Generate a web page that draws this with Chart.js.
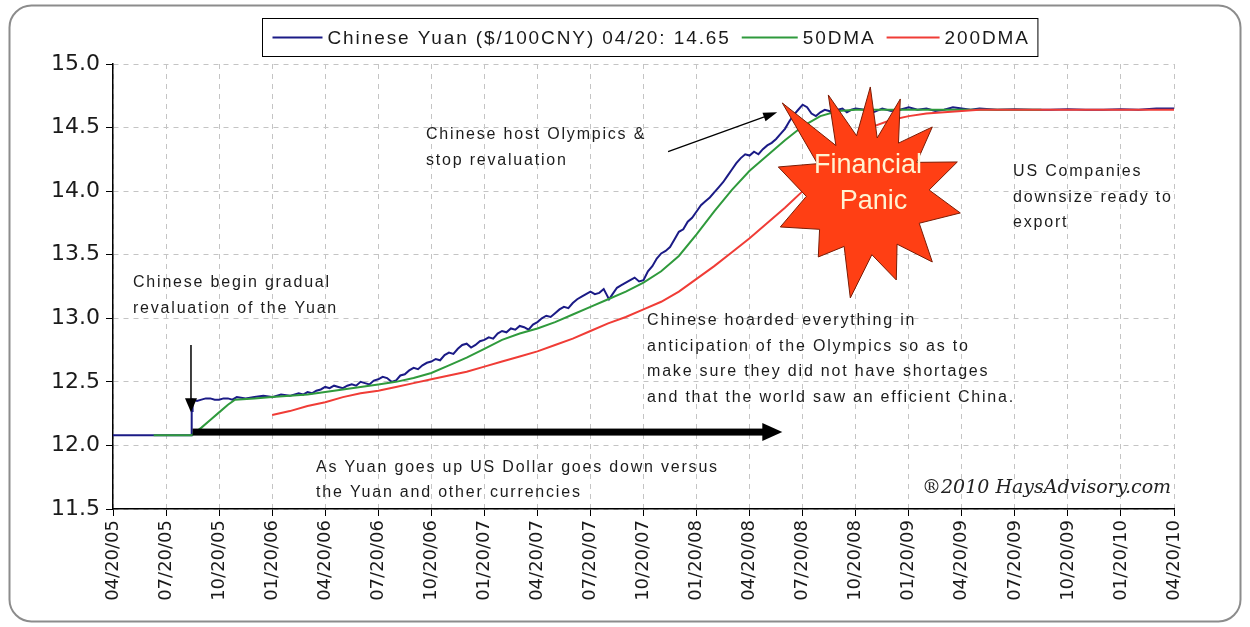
<!DOCTYPE html>
<html>
<head>
<meta charset="utf-8">
<title>Chinese Yuan ($/100CNY)</title>
<script src="https://cdn.jsdelivr.net/npm/chart.js@4.4.0/dist/chart.umd.min.js"></script>
<style>
  html, body { margin: 0; padding: 0; background: #ffffff; }
  #wrap { width: 1250px; height: 627px; position: relative; }
</style>
</head>
<body>
<div id="wrap"><canvas id="chart" width="1250" height="627"></canvas></div>
<script>
// Quarterly date labels along the time axis (one every 3 months from 04/20/05)
const tickLabels = [
  '04/20/05', '07/20/05', '10/20/05', '01/20/06', '04/20/06', '07/20/06', '10/20/06',
  '01/20/07', '04/20/07', '07/20/07', '10/20/07', '01/20/08', '04/20/08', '07/20/08',
  '10/20/08', '01/20/09', '04/20/09', '07/20/09', '10/20/09', '01/20/10', '04/20/10'
];

// Chinese Yuan in $ per 100 CNY; x = months since 04/20/05
const yuanMonths = [
  0, 2, 4.42, 4.45, 4.47, 4.5, 4.75, 5, 5.25, 5.5, 5.75, 6, 6.25, 6.5, 6.75, 7, 7.5, 8, 8.5, 9, 9.5, 10, 10.5, 10.75,
  11, 11.25, 11.5, 11.75, 12, 12.25, 12.5, 12.75, 13, 13.25, 13.5, 13.75, 14, 14.25, 14.5, 14.75,
  15, 15.25, 15.5, 15.75, 16, 16.25, 16.5, 16.75, 17, 17.25, 17.5, 17.75, 18, 18.25, 18.5, 18.75,
  19, 19.25, 19.5, 19.75, 20, 20.25, 20.5, 20.75, 21, 21.25, 21.5, 21.75, 22, 22.25, 22.5, 22.75,
  23, 23.25, 23.5, 23.75, 24, 24.25, 24.5, 24.75, 25, 25.25, 25.5, 25.75, 26, 26.25, 26.5, 26.75,
  27, 27.25, 27.5, 27.75, 27.9, 28.05, 28.25, 28.5, 28.75, 29, 29.25, 29.5, 29.75,
  30, 30.25, 30.5, 30.75, 31, 31.25, 31.5, 31.75, 32, 32.25, 32.5, 32.75, 33, 33.25, 33.5, 33.75,
  34, 34.25, 34.5, 34.75, 35, 35.25, 35.5, 35.75, 36, 36.25, 36.5, 36.75, 37, 37.25, 37.5, 37.75,
  38, 38.25, 38.5, 38.75, 39, 39.25, 39.5, 39.75, 40, 40.25, 40.5, 40.75, 41, 41.25, 41.5, 41.75,
  42, 42.5, 43, 43.5, 44, 44.5, 45, 45.5, 46, 46.5, 47, 47.5, 48, 48.5, 49,
  50, 51, 52, 53, 54, 55, 56, 57, 58, 59, 60
];
const yuanValues = [
  12.08, 12.08, 12.08, 12.31, 12.27, 12.36, 12.35, 12.36, 12.37, 12.37, 12.36, 12.36, 12.37, 12.37, 12.36, 12.38, 12.37, 12.38, 12.39, 12.38, 12.40, 12.39, 12.41, 12.40,
  12.42, 12.41, 12.43, 12.44, 12.46, 12.45, 12.47, 12.46, 12.45, 12.47, 12.48, 12.47, 12.50, 12.49, 12.48, 12.51,
  12.52, 12.54, 12.53, 12.50, 12.51, 12.55, 12.56, 12.59, 12.61, 12.60, 12.63, 12.65, 12.66, 12.68, 12.67, 12.71,
  12.73, 12.72, 12.76, 12.79, 12.80, 12.77, 12.79, 12.82, 12.83, 12.85, 12.84, 12.88, 12.90, 12.89, 12.92, 12.91,
  12.94, 12.93, 12.91, 12.95, 12.97, 13.00, 13.02, 13.01, 13.04, 13.07, 13.09, 13.08, 13.12, 13.15, 13.17, 13.19,
  13.21, 13.19, 13.20, 13.23, 13.19, 13.15, 13.19, 13.24, 13.26, 13.28, 13.30, 13.32, 13.29,
  13.30, 13.37, 13.41, 13.47, 13.51, 13.53, 13.56, 13.62, 13.68, 13.70, 13.76, 13.79, 13.84, 13.89, 13.92, 13.95,
  13.99, 14.03, 14.07, 14.12, 14.17, 14.22, 14.26, 14.29, 14.28, 14.31, 14.29, 14.33, 14.36, 14.38, 14.41, 14.45,
  14.49, 14.55, 14.60, 14.64, 14.68, 14.66, 14.61, 14.59, 14.62, 14.64, 14.63, 14.61, 14.64, 14.65, 14.62, 14.64,
  14.65, 14.64, 14.62, 14.65, 14.63, 14.64, 14.66, 14.64, 14.65, 14.63, 14.64, 14.66, 14.65, 14.64, 14.65,
  14.64, 14.645, 14.64, 14.64, 14.645, 14.64, 14.64, 14.645, 14.64, 14.65, 14.65
];

// 50-day moving average
const dma50Months = [
  2.3, 4.45, 5, 5.5, 6, 6.5, 6.9, 8, 9, 10, 11, 12, 13, 14, 15, 16, 17, 18, 19, 20, 21, 22,
  23, 24, 25, 26, 27, 28, 29, 30, 31, 32, 33, 34, 35, 36, 37, 38, 39, 40, 41, 42, 44, 46, 48, 50, 52.5
];
const dma50Values = [
  12.08, 12.08, 12.14, 12.20, 12.26, 12.32, 12.36, 12.37, 12.38, 12.39, 12.40, 12.42, 12.44, 12.46, 12.48, 12.50, 12.53, 12.57, 12.63, 12.69, 12.76, 12.83,
  12.88, 12.92, 12.97, 13.03, 13.09, 13.15, 13.21, 13.28, 13.37, 13.49, 13.66, 13.84, 14.01, 14.16, 14.28, 14.40, 14.51, 14.59, 14.63, 14.64, 14.64, 14.64, 14.64, 14.64, 14.64
];

// 200-day moving average
const dma200Months = [
  9, 10, 11, 12, 13, 14, 15, 16, 17, 18, 19, 20, 21, 22, 23, 24, 25, 26, 27, 28, 29, 30,
  31, 32, 33, 34, 35, 36, 37, 38, 39, 40, 41, 42, 43, 44, 45, 46, 47, 48, 49, 52, 56, 60
];
const dma200Values = [
  12.24, 12.27, 12.31, 12.34, 12.38, 12.41, 12.43, 12.46, 12.49, 12.52, 12.55, 12.58, 12.62, 12.66, 12.70, 12.74, 12.79, 12.84, 12.90, 12.96, 13.01, 13.07,
  13.13, 13.21, 13.31, 13.41, 13.52, 13.63, 13.75, 13.87, 14.00, 14.16, 14.30, 14.43, 14.51, 14.56, 14.59, 14.61, 14.62, 14.63, 14.64, 14.64, 14.64, 14.64
];

const seriesNames = ['Chinese Yuan ($/100CNY) 04/20: 14.65', '50DMA', '200DMA'];
const seriesColors = ['#1b1b86', '#2f9a3c', '#f03c36'];

const pairs = (xs, ys) => xs.map((x, i) => ({ x: x, y: ys[i] }));

// Callout texts, anchored in axis units (months, $/100CNY)
const notes = [
  { at: [1.13, 13.277], lines: ['Chinese begin gradual', 'revaluation of the Yuan'] },
  { at: [11.48, 11.829], lines: ['As Yuan goes up US Dollar goes down versus', 'the Yuan and other currencies'] },
  { at: [17.70, 14.441], lines: ['Chinese host Olympics &', 'stop revaluation'] },
  { at: [30.20, 12.978], lines: ['Chinese hoarded everything in', 'anticipation of the Olympics so as to',
                                 'make sure they did not have shortages', 'and that the world saw an efficient China.'] },
  { at: [50.90, 14.150], lines: ['US Companies', 'downsize ready to', 'export'] }
];

const decor = {
  id: 'decor',
  beforeDraw(chart) {
    const ctx = chart.ctx;
    ctx.save();
    ctx.fillStyle = '#ffffff';
    ctx.fillRect(0, 0, chart.width, chart.height);
    // rounded outer frame
    const x0 = 9.5, y0 = 5.5, x1 = chart.width - 9.5, y1 = chart.height - 5.5, r = 22;
    ctx.beginPath();
    ctx.moveTo(x0 + r, y0);
    ctx.lineTo(x1 - r, y0);
    ctx.arcTo(x1, y0, x1, y0 + r, r);
    ctx.lineTo(x1, y1 - r);
    ctx.arcTo(x1, y1, x1 - r, y1, r);
    ctx.lineTo(x0 + r, y1);
    ctx.arcTo(x0, y1, x0, y1 - r, r);
    ctx.lineTo(x0, y0 + r);
    ctx.arcTo(x0, y0, x0 + r, y0, r);
    ctx.closePath();
    ctx.strokeStyle = '#8c8c8c';
    ctx.lineWidth = 2;
    ctx.stroke();
    ctx.restore();
  },
  afterDatasetsDraw(chart) {
    const ctx = chart.ctx;
    const sx = chart.scales.x, sy = chart.scales.y;
    const px = m => sx.getPixelForValue(m);
    const py = v => sy.getPixelForValue(v);

    ctx.save();
    // thick horizontal arrow
    {
      const xa = px(4.5), xb = px(37.85), y = py(12.105);
      ctx.fillStyle = '#000';
      ctx.fillRect(xa, y - 3.5, xb - xa - 18, 7);
      ctx.beginPath();
      ctx.moveTo(xb - 20, y - 9);
      ctx.lineTo(xb, y);
      ctx.lineTo(xb - 20, y + 9);
      ctx.closePath();
      ctx.fill();
    }
    // vertical arrow to the revaluation step
    {
      const x = px(4.41), ya = py(12.79), yb = py(12.26);
      ctx.strokeStyle = '#000';
      ctx.lineWidth = 1.5;
      ctx.beginPath();
      ctx.moveTo(x, ya);
      ctx.lineTo(x, yb - 12);
      ctx.stroke();
      ctx.fillStyle = '#000';
      ctx.beginPath();
      ctx.moveTo(x - 6, yb - 14);
      ctx.lineTo(x + 6, yb - 14);
      ctx.lineTo(x, yb);
      ctx.closePath();
      ctx.fill();
    }
    // slanted arrow to the Olympic peak
    {
      const xa = px(31.39), ya = py(14.31), xb = px(37.56), yb = py(14.62);
      const ang = Math.atan2(yb - ya, xb - xa);
      ctx.strokeStyle = '#000';
      ctx.lineWidth = 1.3;
      ctx.beginPath();
      ctx.moveTo(xa, ya);
      ctx.lineTo(xb - 10 * Math.cos(ang), yb - 10 * Math.sin(ang));
      ctx.stroke();
      ctx.fillStyle = '#000';
      ctx.beginPath();
      ctx.moveTo(xb, yb);
      ctx.lineTo(xb - 14 * Math.cos(ang) + 4.5 * Math.sin(ang), yb - 14 * Math.sin(ang) - 4.5 * Math.cos(ang));
      ctx.lineTo(xb - 14 * Math.cos(ang) - 4.5 * Math.sin(ang), yb - 14 * Math.sin(ang) + 4.5 * Math.cos(ang));
      ctx.closePath();
      ctx.fill();
    }

    // "Financial Panic" burst
    {
      const cx = px(42.6), cy = py(13.97);
      const tips = [[-84, -92], [-38, -100], [4, -108], [34, -96], [66, -68], [91, -33], [94, 18],
                    [66, 67], [30, 85], [-16, 103], [-48, 62], [-86, 32], [-88, -28]];
      const inner = [58, 60, 58, 61, 60, 63, 60, 58, 60, 56, 58, 60, 58];
      ctx.beginPath();
      tips.forEach((t, i) => {
        const a1 = Math.atan2(t[1], t[0]);
        const n = tips[(i + 1) % tips.length];
        let a2 = Math.atan2(n[1], n[0]);
        if (a2 < a1) a2 += Math.PI * 2;
        const am = (a1 + a2) / 2;
        if (i === 0) ctx.moveTo(cx + t[0], cy + t[1]); else ctx.lineTo(cx + t[0], cy + t[1]);
        ctx.lineTo(cx + inner[i] * Math.cos(am), cy + inner[i] * Math.sin(am));
      });
      ctx.closePath();
      ctx.fillStyle = '#ff3f14';
      ctx.fill();
      ctx.strokeStyle = '#7a1c05';
      ctx.lineWidth = 1;
      ctx.stroke();

      ctx.fillStyle = '#fff3d2';
      ctx.font = '27px "Liberation Sans", Arial, sans-serif';
      ctx.textAlign = 'center';
      ctx.textBaseline = 'middle';
      ctx.fillText('Financial', px(42.70), py(14.205));
      ctx.fillText('Panic', px(43.01), py(13.922));
    }

    // callout texts
    ctx.fillStyle = '#1c1c1c';
    ctx.font = '16px "Liberation Sans", Arial, sans-serif';
    ctx.textAlign = 'left';
    ctx.textBaseline = 'middle';
    ctx.letterSpacing = '1.8px';
    notes.forEach(n => {
      const x = px(n.at[0]), y = py(n.at[1]);
      n.lines.forEach((s, i) => ctx.fillText(s, x, y + i * 25.5));
    });
    ctx.letterSpacing = '0px';

    // copyright mark
    ctx.font = 'italic 19px "DejaVu Serif", serif';
    ctx.fillStyle = '#222';
    ctx.fillText('\u00AE2010 HaysAdvisory.com', px(45.75), py(11.664));
    ctx.restore();
  },
  afterDraw(chart) {
    // boxed legend above the plot
    const ctx = chart.ctx;
    const area = chart.chartArea;
    ctx.save();
    ctx.font = '19px "Liberation Sans", Arial, sans-serif';
    ctx.letterSpacing = '1.9px';
    ctx.textBaseline = 'middle';
    ctx.textAlign = 'left';
    const sample = [50, 56, 53];
    const gapAfterSample = 5, gapAfterText = 11, padL = 10, padR = 8;
    const widths = seriesNames.map(s => ctx.measureText(s).width);
    let total = padL + padR;
    seriesNames.forEach((s, i) => { total += sample[i] + gapAfterSample + widths[i] + (i < 2 ? gapAfterText : 0); });
    const cxm = (area.left + area.right) / 2 + 6;
    const left = Math.round(cxm - total / 2) + 0.5, top = 18.5, h = 38;
    ctx.fillStyle = '#fff';
    ctx.fillRect(left, top, total, h);
    ctx.strokeStyle = '#000';
    ctx.lineWidth = 1;
    ctx.strokeRect(left, top, total, h);
    let x = left + padL;
    const y = top + h / 2;
    seriesNames.forEach((s, i) => {
      ctx.strokeStyle = seriesColors[i];
      ctx.lineWidth = 2;
      ctx.beginPath();
      ctx.moveTo(x, y);
      ctx.lineTo(x + sample[i], y);
      ctx.stroke();
      x += sample[i] + gapAfterSample;
      ctx.fillStyle = '#1a1a1a';
      ctx.fillText(s, x, y + 1);
      x += widths[i] + gapAfterText;
    });
    ctx.restore();
  }
};

const gridDash = [5, 5];

new Chart(document.getElementById('chart'), {
  type: 'line',
  data: {
    datasets: [
      { label: seriesNames[0], data: pairs(yuanMonths, yuanValues), borderColor: seriesColors[0],
        backgroundColor: seriesColors[0], borderWidth: 2, order: 3 },
      { label: seriesNames[1], data: pairs(dma50Months, dma50Values), borderColor: seriesColors[1],
        backgroundColor: seriesColors[1], borderWidth: 2, order: 2 },
      { label: seriesNames[2], data: pairs(dma200Months, dma200Values), borderColor: seriesColors[2],
        backgroundColor: seriesColors[2], borderWidth: 2, order: 1 }
    ]
  },
  options: {
    responsive: false,
    animation: false,
    events: [],
    elements: { point: { radius: 0 }, line: { tension: 0 } },
    layout: { padding: { top: 64, right: 76, bottom: 0, left: 0 } },
    plugins: { legend: { display: false }, tooltip: { enabled: false }, title: { display: false } },
    scales: {
      x: {
        type: 'linear',
        min: 0, max: 60,
        afterFit: s => { s.height = 118; },
        afterBuildTicks: s => { s.ticks = tickLabels.map((_, i) => ({ value: i * 3 })); },
        ticks: {
          autoSkip: false, minRotation: 90, maxRotation: 90, padding: 4,
          color: '#1a1a1a',
          font: { family: '"DejaVu Sans", sans-serif', size: 18 },
          callback: v => tickLabels[Math.round(v / 3)]
        },
        grid: { color: '#c4c4c4', lineWidth: 1, tickColor: '#000', tickLength: 7, tickBorderDash: [], borderDash: gridDash },
        border: { display: true, color: '#000', width: 1.5, dash: gridDash }
      },
      y: {
        type: 'linear',
        min: 11.5, max: 15,
        afterFit: s => { s.width = 113; },
        ticks: {
          stepSize: 0.5, padding: 6, color: '#1a1a1a',
          font: { family: '"DejaVu Sans", sans-serif', size: 22 },
          callback: v => v.toFixed(1)
        },
        grid: { color: '#c4c4c4', lineWidth: 1, tickColor: '#000', tickLength: 7, tickBorderDash: [], borderDash: gridDash },
        border: { display: true, color: '#000', width: 1.5, dash: gridDash }
      }
    }
  },
  plugins: [decor]
});
</script>
</body>
</html>
